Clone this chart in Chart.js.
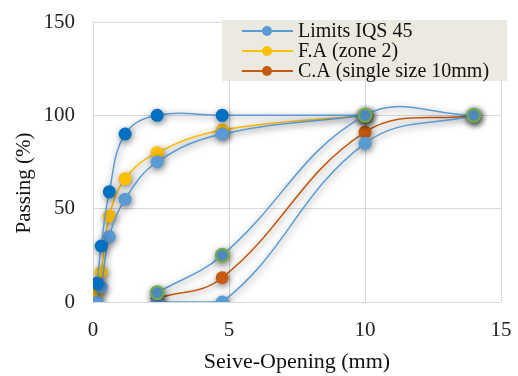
<!DOCTYPE html>
<html>
<head>
<meta charset="utf-8">
<script src="https://cdn.jsdelivr.net/npm/chart.js@4.4.1/dist/chart.umd.min.js"></script>
<style>
  html, body { margin:0; padding:0; background:#fff; }
  #wrap { width:518px; height:376px; }
</style>
</head>
<body>
<div id="wrap"><canvas id="chart" width="518" height="376"></canvas></div>
<script>
// sieve openings (mm)
const faSieves = [0.15, 0.3, 0.6, 1.18, 2.36, 4.75, 10]
const caSieves = [2.36, 4.75, 10, 14]

// IQS 45 limits
const faUpper = [10, 30, 59, 90, 100, 100, 100]
const faLower = [0, 8, 35, 55, 75, 90, 100]
const caUpper = [5, 25, 100, 100]
const caLower = [0, 0, 85, 100]

// measured gradings
const faPassing = [5, 16, 46, 66, 80, 92, 100]
const caPassing = [2, 13, 91, 100]

const xTicks = [0, 5, 10, 15]
const yTicks = [0, 50, 100, 150]

const blue = '#5B9BD5'
const darkBlue = '#0070C0'
const yellow = '#FFC000'
const orange = '#C55A11'
const green = '#70AD47'
const serif = '"Liberation Serif", "Times New Roman", serif'

const pts = (xs, ys) => xs.map((x, i) => ({x: x, y: ys[i]}))

function series(label, xs, ys, line, fill, border, legend){
  return {
    label: label,
    data: pts(xs, ys),
    borderColor: line,
    backgroundColor: fill,
    pointBackgroundColor: fill,
    pointBorderColor: border,
    pointBorderWidth: border == fill ? 0 : 2,
    pointRadius: 6.5,
    borderWidth: 1.5,
    tension: 0.4,
    showLine: true,
    inLegend: legend
  }
}

const datasets = [
  series('Limits IQS 45', faSieves, faUpper, blue, darkBlue, darkBlue, false),
  series('Limits IQS 45', faSieves, faLower, blue, blue, blue, true),
  series('Limits IQS 45', caSieves, caLower, blue, blue, blue, false),
  series('Limits IQS 45', caSieves, caUpper, blue, blue, green, false),
  series('F.A (zone 2)', faSieves, faPassing, yellow, yellow, yellow, true),
  series('C.A (single size 10mm)', caSieves, caPassing, orange, orange, orange, true)
]
// CA upper limit markers sit on top of everything
datasets[3].order = -1

const shadowPlugin = {
  id: 'shadow',
  beforeDatasetsDraw(chart){
    const ctx = chart.ctx
    ctx.save()
    ctx.shadowColor = 'rgba(0,0,0,0.5)'
    ctx.shadowBlur = 7
    ctx.shadowOffsetX = 1
    ctx.shadowOffsetY = 2
  },
  afterDatasetsDraw(chart){
    chart.ctx.restore()
  }
}

// y title sits a bit lower than the middle in the original
const yTitle = {
  id: 'yTitle',
  afterDraw(chart){
    const ctx = chart.ctx
    const a = chart.chartArea
    ctx.save()
    ctx.translate(a.left - 69, a.top + 161)
    ctx.rotate(-Math.PI / 2)
    ctx.fillStyle = '#111'
    ctx.font = '21px ' + serif
    ctx.textAlign = 'center'
    ctx.textBaseline = 'middle'
    ctx.fillText('Passing (%)', 0, 0)
    ctx.restore()
  }
}

// legend box over the top right of the plot, like the Excel one
const legendBox = {
  id: 'legendBox',
  afterDraw(chart){
    const ctx = chart.ctx
    const area = chart.chartArea
    const right = area.right + 6
    const left = right - 285
    const top = area.top - 2
    const h = 61
    ctx.save()
    ctx.fillStyle = '#ECEAE0'
    ctx.fillRect(left, top, right - left, h)
    const items = chart.data.datasets.filter(d => d.inLegend)
    items.forEach((d, i) => {
      const y = top + 11 + i * 20
      ctx.strokeStyle = d.borderColor
      ctx.lineWidth = 2
      ctx.beginPath()
      ctx.moveTo(left + 20, y)
      ctx.lineTo(left + 71, y)
      ctx.stroke()
      ctx.fillStyle = d.pointBackgroundColor
      ctx.beginPath()
      ctx.arc(left + 45, y, 5, 0, Math.PI * 2)
      ctx.fill()
      ctx.fillStyle = '#111'
      ctx.font = '20px ' + serif
      ctx.textBaseline = 'middle'
      ctx.fillText(d.label, left + 76, y + 1)
    })
    ctx.restore()
  }
}

const ctx = document.getElementById('chart').getContext('2d')
const chart = new Chart(ctx, {
  type: 'scatter',
  data: { datasets: datasets },
  options: {
    responsive: false,
    animation: false,
    layout: { padding: { left: 0, right: 17, top: 22, bottom: 0 } },
    plugins: {
      legend: { display: false },
      tooltip: { enabled: false }
    },
    scales: {
      x: {
        type: 'linear',
        min: 0, max: 15,
        afterBuildTicks: s => { s.ticks = xTicks.map(v => ({value: v})) },
        afterFit: s => { s.height = 74; s.paddingLeft = 0; s.paddingRight = 0 },
        grid: { color: '#D9D9D9', drawTicks: false },
        border: { display: false },
        ticks: { color: '#222', padding: 16, font: { family: serif, size: 21 } },
        title: { display: true, text: 'Seive-Opening (mm)', color: '#111', padding: { top: 4, bottom: 1 },
                 font: { family: serif, size: 22 } }
      },
      y: {
        type: 'linear',
        min: 0, max: 150,
        afterBuildTicks: s => { s.ticks = yTicks.map(v => ({value: v})) },
        afterFit: s => { s.width = 93; s.paddingTop = 0; s.paddingBottom = 0 },
        grid: { color: '#D9D9D9', drawTicks: false },
        border: { display: false },
        ticks: { color: '#222', padding: 18, font: { family: serif, size: 21 } },
        title: { display: false }
      }
    }
  },
  plugins: [shadowPlugin, yTitle, legendBox]
})
</script>
</body>
</html>
